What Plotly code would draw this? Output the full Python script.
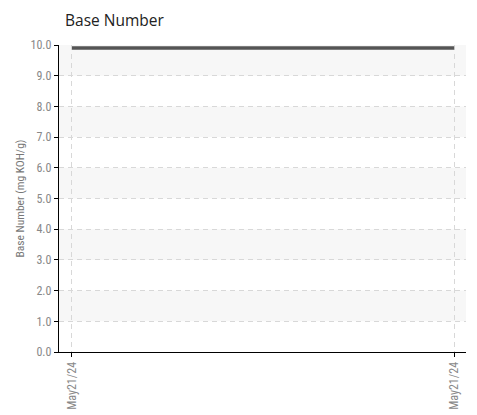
import plotly.graph_objects as go

x_pos = [0, 1]
x_labels = ["May21/24", "May21/24"]
base_number = [9.9, 9.9]
y_ticks = [0, 1, 2, 3, 4, 5, 6, 7, 8, 9, 10]
y_tick_labels = ["0.0", "1.0", "2.0", "3.0", "4.0", "5.0", "6.0", "7.0", "8.0", "9.0", "10.0"]
band_starts = [1, 3, 5, 7, 9]

cond = "Roboto Condensed, Liberation Sans Narrow, Roboto, sans-serif"

W, H = 469, 407

fig = go.Figure()
fig.add_trace(go.Scatter(
    x=x_pos, y=base_number, mode="lines",
    line=dict(color="#555555", width=3.5),
    hoverinfo="skip", showlegend=False,
))

shapes = []
for b in band_starts:
    shapes.append(dict(type="rect", xref="paper", yref="y", x0=0, x1=1, y0=b, y1=b + 1,
                       fillcolor="#f7f7f7", line=dict(width=0), layer="below"))

fig.update_layout(
    width=W, height=H,
    margin=dict(l=51, r=11, t=37, b=63),
    paper_bgcolor="white", plot_bgcolor="white",
    shapes=shapes,
    title=dict(text="Base Number", x=57 / W, xanchor="left", y=1 - 13 / H, yanchor="middle",
               font=dict(family="Open Sans, sans-serif", size=15.5, color="#222222")),
    xaxis=dict(
        range=[-0.034, 1.031], tickmode="array", tickvals=x_pos, ticktext=x_labels,
        tickangle=-90, ticks="outside", ticklen=4, tickcolor="#000000",
        tickfont=dict(family=cond, size=12, color="#888888"),
        showgrid=True, gridcolor="#d8d8d8", griddash="5px,4px", gridwidth=1,
        showline=True, linecolor="#000000", linewidth=1.3,
        zeroline=False, fixedrange=True, automargin=False,
    ),
    yaxis=dict(
        range=[0, 10], tickmode="array", tickvals=y_ticks, ticktext=y_tick_labels,
        ticks="outside", ticklen=4, tickcolor="#000000",
        tickfont=dict(family=cond, size=12, color="#888888"),
        showgrid=True, gridcolor="#d8d8d8", griddash="5px,4px", gridwidth=1,
        showline=True, linecolor="#000000", linewidth=1.3,
        zeroline=False, automargin=False,
        title=dict(text="Base Number (mg KOH/g)", standoff=3,
                   font=dict(family=cond, size=11.5, color="#777777")),
    ),
)

fig.write_html("out.html")
